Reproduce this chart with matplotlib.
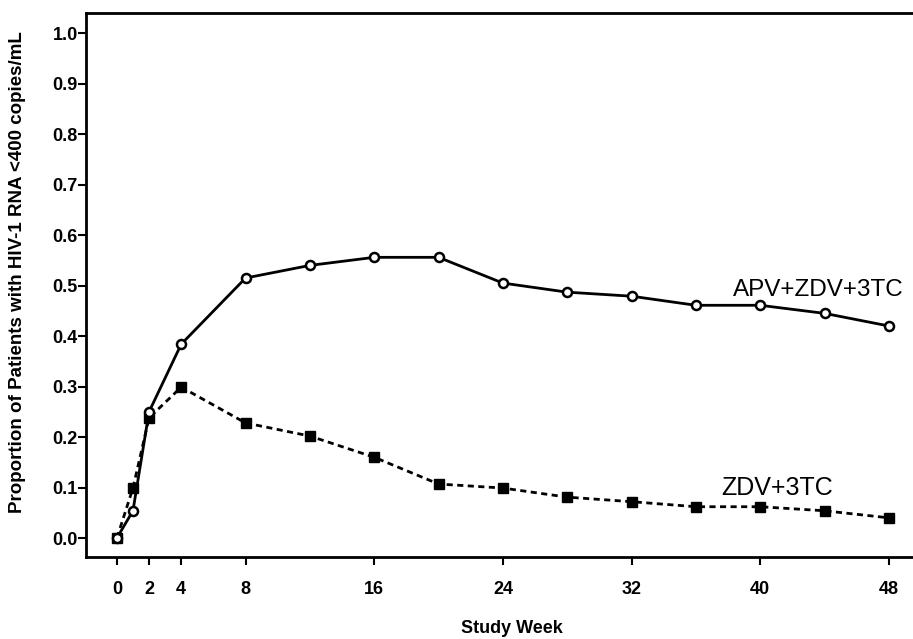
import numpy as np
import matplotlib
matplotlib.use('Agg')
import matplotlib.pyplot as plt

plt.rcParams['font.family'] = ['Liberation Sans', 'DejaVu Sans']

weeks = [0, 1, 2, 4, 8, 12, 16, 20, 24, 28, 32, 36, 40, 44, 48]
apv = [0.0, 0.054, 0.25, 0.384, 0.515, 0.540, 0.556, 0.556, 0.505, 0.487,
       0.479, 0.461, 0.461, 0.445, 0.420]
zdv = [0.0, 0.099, 0.238, 0.299, 0.228, 0.202, 0.160, 0.107, 0.099, 0.081,
       0.072, 0.062, 0.062, 0.054, 0.040]
xticks = [0, 2, 4, 8, 16, 24, 32, 40, 48]
yticks = [0.0, 0.1, 0.2, 0.3, 0.4, 0.5, 0.6, 0.7, 0.8, 0.9, 1.0]

fig = plt.figure(figsize=(9.13, 6.39), dpi=100)
ax = fig.add_axes([0.0942, 0.1283, 0.9058, 0.8514])

ax.plot(weeks, zdv, color='black', lw=2, ls=(0, (2.2, 1.6)),
        marker='s', ms=7, mfc='black', mec='black', zorder=2)
ax.plot(weeks, apv, color='black', lw=2, ls='-',
        marker='o', ms=6.5, mfc='white', mec='black', mew=1.8, zorder=3)

ax.set_xlim(-1.92, 49.5)
ax.set_ylim(-0.0376, 1.04)
ax.set_xticks(xticks)
ax.set_yticks(yticks)
ax.set_yticklabels(['%.1f' % v for v in yticks])
ax.tick_params(axis='both', direction='out', length=6, width=1.5,
               labelsize=13, color='black')
ax.tick_params(axis='y', pad=0)
ax.tick_params(axis='x', pad=11)
for lab in ax.get_xticklabels() + ax.get_yticklabels():
    lab.set_fontweight('bold')

for side in ['left', 'bottom', 'top']:
    ax.spines[side].set_linewidth(2)
ax.spines['right'].set_visible(False)

ax.set_xlabel('Study Week', fontsize=13, fontweight='bold')
ax.xaxis.set_label_coords(0.515, -0.116)
ax.set_ylabel('Proportion of Patients with HIV-1 RNA <400 copies/mL',
              fontsize=13.5, fontweight='bold')
ax.yaxis.set_label_coords(-0.0726, 0.524)

ax.text(38.3, 0.491, 'APV+ZDV+3TC', fontsize=17.5, va='center', ha='left')
ax.text(37.6, 0.099, 'ZDV+3TC', fontsize=18, va='center', ha='left')

fig.savefig('out.png', dpi=100)
